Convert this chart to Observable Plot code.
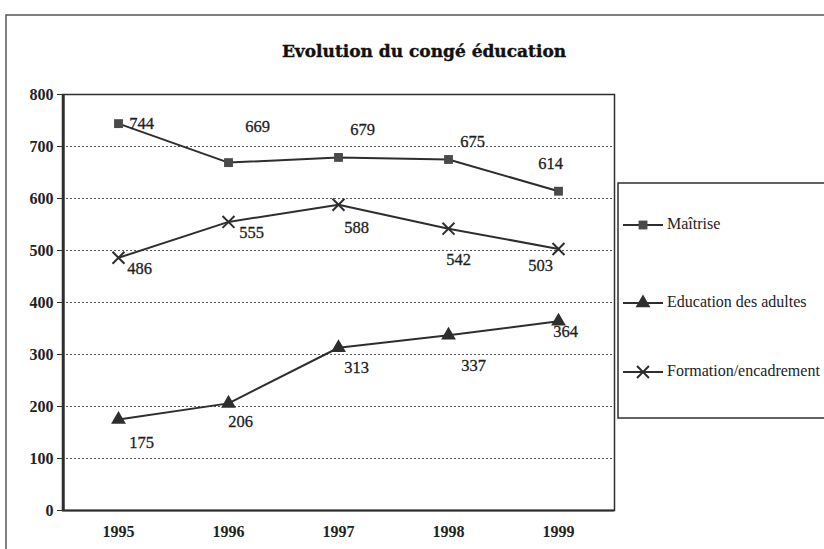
<!DOCTYPE html>
<html>
<head>
<meta charset="utf-8">
<script src="https://cdn.jsdelivr.net/npm/d3@7"></script>
<script src="https://cdn.jsdelivr.net/npm/@observablehq/plot@0.6"></script>
<style>
  html, body { margin: 0; padding: 0; background: #fff; }
  #chart { width: 824px; height: 549px; overflow: hidden; }
</style>
</head>
<body>
<div id="chart"></div>
<script>
const title = "Evolution du congé éducation";
const years = ["1995", "1996", "1997", "1998", "1999"];
const maitrise = [744, 669, 679, 675, 614];
const education = [175, 206, 313, 337, 364];
const formation = [486, 555, 588, 542, 503];
const seriesNames = ["Maîtrise", "Education des adultes", "Formation/encadrement"];
const yTicks = [0, 100, 200, 300, 400, 500, 600, 700, 800];
const gridTicks = [100, 200, 300, 400, 500, 600, 700];

// label offsets (px) relative to each marker, as placed in the original
const offMaitrise = [[23, 0], [29, -36], [24, -28], [24, -18], [-8, -28]];
const offEducation = [[23, 23], [12, 18], [18, 20], [25, 30], [7, 10]];
const offFormation = [[21, 11], [23, 11], [18, 23], [10, 31], [-18, 17]];

const seriesValues = [maitrise, education, formation];
const offsets = [offMaitrise, offEducation, offFormation];

const rows = [];
seriesValues.forEach((vals, s) => vals.forEach((v, i) => rows.push({year: years[i], value: v, series: seriesNames[s], s, i})));

const serif = "Liberation Serif, DejaVu Serif, serif";
const ink = "#2e2e2e";

const labelMarks = [];
rows.forEach(d => {
  const [dx, dy] = offsets[d.s][d.i];
  labelMarks.push(Plot.text([d], {
    x: "year", y: "value", text: d => String(d.value),
    dx, dy, textAnchor: "middle", lineAnchor: "middle",
    fontSize: 16.5, fontFamily: serif, fill: "#1e1e1e", stroke: "#1e1e1e", strokeWidth: 0.3
  }));
});

const plot = Plot.plot({
  width: 824,
  height: 549,
  marginLeft: 62,
  marginRight: 210,
  marginTop: 94,
  marginBottom: 39,
  style: {fontFamily: serif, background: "#fff", overflow: "visible"},
  x: {type: "point", domain: years, padding: 0.5, label: null},
  y: {domain: [0, 800], label: null},
  marks: [
    Plot.ruleY(gridTicks, {stroke: "#555", strokeWidth: 1, strokeDasharray: "2,2"}),
    Plot.frame({stroke: ink, strokeWidth: 1.5}),
    Plot.axisY({ticks: yTicks, tickSize: 5, tickPadding: 4, fontSize: 16, fontWeight: "bold", fill: "#222", stroke: ink, label: null}),
    Plot.axisX({tickSize: 0, tickPadding: 15, fontSize: 16, fontWeight: "bold", fill: "#222", label: null}),
    Plot.ruleX([years[0]], {stroke: ink, strokeWidth: 2.5, dx: -55}),
    Plot.ruleY([0], {stroke: ink, strokeWidth: 2}),
    Plot.line(rows, {x: "year", y: "value", z: "series", stroke: ink, strokeWidth: 2}),
    Plot.dot(rows.filter(d => d.s === 0), {x: "year", y: "value", symbol: "square", r: 5, fill: "#4a4a4a", stroke: "none"}),
    Plot.dot(rows.filter(d => d.s === 1), {x: "year", y: "value", symbol: "triangle", r: 5.5, fill: ink, stroke: "none"}),
    Plot.dot(rows.filter(d => d.s === 2), {x: "year", y: "value", symbol: "times", r: 5.5, stroke: ink, strokeWidth: 2}),
    ...labelMarks
  ]
});

document.getElementById("chart").appendChild(plot);

// outer chart frame, title and legend
const svg = d3.select(plot);
svg.append("path")
  .attr("d", "M6,549 L6,15 L824,15")
  .attr("fill", "none").attr("stroke", "#555").attr("stroke-width", 1.5);

svg.append("text")
  .attr("x", 424).attr("y", 52)
  .attr("text-anchor", "middle").attr("dominant-baseline", "middle")
  .attr("font-family", "DejaVu Serif, serif")
  .attr("font-weight", "bold").attr("font-size", 17).attr("fill", "#111")
  .attr("stroke", "#111").attr("stroke-width", 0.4)
  .text(title);

const lg = svg.append("g");
lg.append("rect").attr("x", 618).attr("y", 183).attr("width", 220).attr("height", 235)
  .attr("fill", "#fff").attr("stroke", ink).attr("stroke-width", 1.5);
const legendY = [225, 303, 372];
seriesNames.forEach((name, k) => {
  const y = legendY[k];
  lg.append("line").attr("x1", 623).attr("x2", 663).attr("y1", y).attr("y2", y)
    .attr("stroke", ink).attr("stroke-width", 2);
  const symType = [d3.symbolSquare, d3.symbolTriangle, d3.symbolTimes][k];
  const r = [5, 5.5, 5.5][k];
  const p = lg.append("path")
    .attr("d", d3.symbol(symType, Math.PI * r * r)())
    .attr("transform", `translate(643,${y})`);
  if (k === 2) p.attr("fill", "none").attr("stroke", ink).attr("stroke-width", 2);
  else p.attr("fill", k === 0 ? "#4a4a4a" : ink);
  lg.append("text").attr("x", 667).attr("y", y)
    .attr("text-anchor", "start")
    .attr("dominant-baseline", "middle")
    .attr("font-family", serif).attr("font-size", 16).attr("fill", "#222")
    .text(name);
});
</script>
</body>
</html>
